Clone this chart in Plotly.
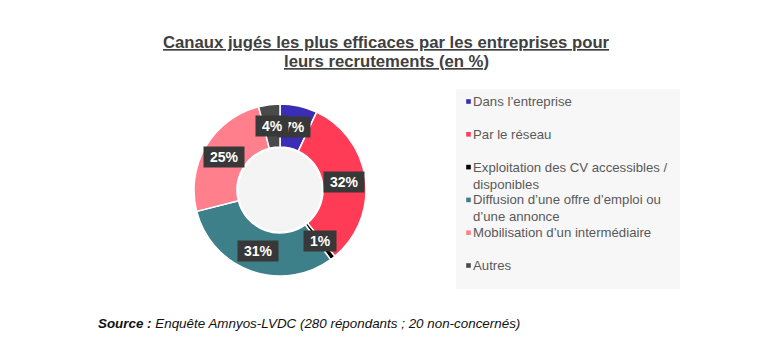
import math
import plotly.graph_objects as go

# ---- data ----
categories = [
    "Dans l’entreprise",
    "Par le réseau",
    "Exploitation des CV accessibles / disponibles",
    "Diffusion d’une offre d’emploi ou d’une annonce",
    "Mobilisation d’un intermédiaire",
    "Autres",
]
legend_labels = [
    "Dans l’entreprise",
    "Par le réseau",
    "Exploitation des CV accessibles /<br>disponibles",
    "Diffusion d’une offre d’emploi ou<br>d’une annonce",
    "Mobilisation d’un intermédiaire",
    "Autres",
]
values = [7, 32, 1, 31, 25, 4]
colors = ["#3b2db5", "#ff3b55", "#000000", "#3e8089", "#ff808c", "#4a4a4a"]

title_lines = [
    "Canaux jugés les plus efficaces par les entreprises pour",
    "leurs recrutements (en %)",
]
source_text = "<b>Source :</b> Enquête Amnyos-LVDC (280 répondants ; 20 non-concernés)"

# ---- layout constants (page pixels; the page body adds an 8px offset) ----
W, H = 761, 355
OFF = 8
CX, CY, R = 280, 190, 86
HOLE = 0.5
FONT = "Liberation Sans, Arial, sans-serif"
NB = "\u00a0"


def px(x):
    return (x - OFF) / W


def py(y):
    return 1 - (y - OFF) / H


fig = go.Figure()
fig.add_trace(go.Pie(
    labels=categories,
    values=values,
    hole=HOLE,
    sort=False,
    direction="clockwise",
    rotation=0,
    marker=dict(colors=colors, line=dict(color="white", width=1.5)),
    textinfo="none",
    showlegend=False,
    domain=dict(x=[px(CX - R), px(CX + R)], y=[py(CY + R), py(CY - R)]),
))

annotations = []
shapes = []

# soft fill of the hole
hr = R * HOLE - 1.5
shapes.append(dict(type="circle", xref="paper", yref="paper",
                   x0=px(CX - hr), x1=px(CX + hr), y0=py(CY + hr), y1=py(CY - hr),
                   fillcolor="#f4f4f4", line=dict(width=0), layer="above"))

# slice labels (dark boxes) at mid-ring radius
total = sum(values)
cum = 0
rl = R * (1 + HOLE) / 2
for v in values:
    theta = 2 * math.pi * (cum + v / 2) / total
    cum += v
    x = CX + rl * math.sin(theta)
    y = CY - rl * math.cos(theta)
    annotations.append(dict(
        x=px(x), y=py(y), xref="paper", yref="paper",
        text=f"<b>{NB}{round(v / total * 100)}%{NB}</b>", showarrow=False,
        font=dict(family=FONT, size=14, color="white"),
        bgcolor="#383838", borderpad=2,
        xanchor="center", yanchor="middle",
    ))

# legend background
shapes.append(dict(type="rect", xref="paper", yref="paper",
                   x0=px(456), x1=px(680), y0=py(289), y1=py(89),
                   fillcolor="#f7f7f7", line=dict(width=0), layer="below"))

# legend entries
LX_MARK, LX_TEXT, LY0, LSTEP = 468.5, 471, 101, 32.8
for i, (lab, col) in enumerate(zip(legend_labels, colors)):
    yc = LY0 + i * LSTEP
    shapes.append(dict(type="rect", xref="paper", yref="paper",
                       xsizemode="pixel", ysizemode="pixel",
                       xanchor=px(LX_MARK), yanchor=py(yc + 0.5),
                       x0=-2.3, x1=2.3, y0=-2.3, y1=2.3,
                       fillcolor=col, line=dict(width=0)))
    annotations.append(dict(
        x=px(LX_TEXT), y=py(yc - 9), xref="paper", yref="paper",
        text=lab, showarrow=False, align="left",
        xanchor="left", yanchor="top",
        font=dict(family=FONT, size=13.2, color="#595959"),
    ))

# title (two lines, tight spacing)
for i, line in enumerate(title_lines):
    annotations.append(dict(
        x=px(386), y=py(43 + 18 * i), xref="paper", yref="paper",
        text=f"<b><u>{line}</u></b>",
        showarrow=False, align="center", xanchor="center", yanchor="middle",
        font=dict(family=FONT, size=16.7, color="#404040"),
    ))

# source
annotations.append(dict(
    x=px(96), y=py(323), xref="paper", yref="paper",
    text=f"<i>{source_text}</i>", showarrow=False, align="left",
    xanchor="left", yanchor="middle",
    font=dict(family=FONT, size=13.4, color="#111111"),
))

fig.update_layout(
    width=W, height=H,
    margin=dict(l=0, r=0, t=0, b=0),
    paper_bgcolor="white", plot_bgcolor="white",
    annotations=annotations, shapes=shapes,
)

fig.write_html("out.html")
